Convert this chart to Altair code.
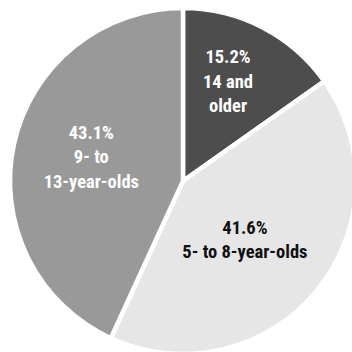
import altair as alt
import pandas as pd

groups = ["14 and older", "5- to 8-year-olds", "9- to 13-year-olds"]
shares = [15.2, 41.6, 43.1]
label_lines = [
    ["15.2%", "14 and", "older"],
    ["41.6%", "5- to 8-year-olds"],
    ["43.1%", "9- to", "13-year-olds"],
]
colors = ["#4d4d4d", "#e6e6e6", "#999999"]
text_colors = ["white", "#111111", "white"]

df = pd.DataFrame({
    "group": groups,
    "share": shares,
    "order": list(range(len(groups))),
    "label": ["\n".join(l) for l in label_lines],
})

FONT = "Roboto Condensed, Liberation Sans Narrow, Roboto, sans-serif"

base = alt.Chart(df)
pie = base.mark_arc(outerRadius=173, stroke="white", strokeWidth=4.5).encode(
    theta=alt.Theta("share:Q", stack=True),
    color=alt.Color("group:N", scale=alt.Scale(domain=groups, range=colors), legend=None),
    order=alt.Order("order:Q"),
)

mid_base = base.transform_window(
    cum="sum(share)", sort=[alt.SortField("order")]
).transform_calculate(mid="datum.cum - datum.share / 2")

offsets = [(-1, -35), (-15, -17), (6, -27)]


def label_layer(i):
    dx, dy = offsets[i]
    return mid_base.transform_filter(alt.datum.group == groups[i]).mark_text(
        radius=100, dx=dx, dy=dy, font=FONT, fontSize=18.5, fontWeight="bold",
        lineBreak="\n", lineHeight=24.5, color=text_colors[i],
        align="center", baseline="middle",
    ).encode(
        theta=alt.Theta("mid:Q", stack=None),
        text="label:N",
    )


chart = alt.layer(pie, *[label_layer(i) for i in range(3)]).properties(
    width=366, height=362,
    autosize=alt.AutoSizeParams(type="none"),
    padding={"left": 0, "top": 0, "right": -14, "bottom": -10},
).configure_view(stroke=None)

chart.save("out.html", embed_options={"renderer": "svg", "actions": False})
